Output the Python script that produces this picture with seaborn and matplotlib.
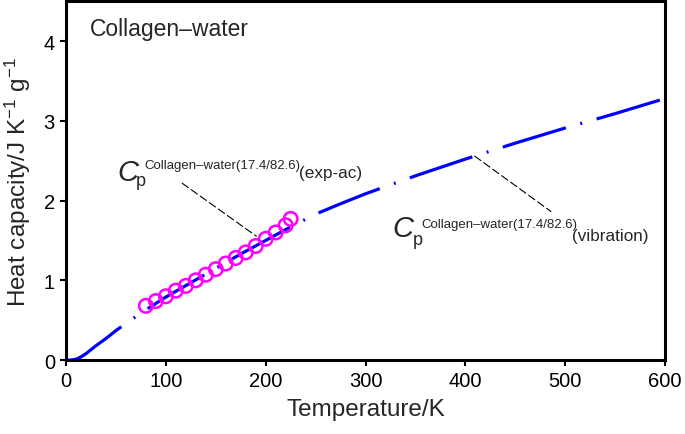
import matplotlib
matplotlib.use("Agg")
import matplotlib.pyplot as plt
import seaborn as sns

OUTPUT_FILE = "out.png"

# vibrational heat capacity (line)
temp_vib = [0, 5, 10, 15, 20, 30, 40, 50, 60, 80, 100, 125, 150, 175, 200, 225, 250,
            275, 300, 350, 400, 450, 500, 550, 600]
cp_vib = [0.0, 0.0, 0.01, 0.04, 0.08, 0.18, 0.27, 0.37, 0.46, 0.63, 0.79, 0.97, 1.15,
          1.33, 1.50, 1.67, 1.83, 1.96, 2.085, 2.31, 2.52, 2.72, 2.91, 3.09, 3.28]

# experimental heat capacity (circles)
temp_exp = [80, 90, 100, 110, 120, 130, 140, 150, 160, 170, 180, 190, 200, 210, 220, 225]
cp_exp = [0.68, 0.74, 0.80, 0.87, 0.93, 1.00, 1.07, 1.14, 1.21, 1.28, 1.35, 1.43,
          1.52, 1.60, 1.69, 1.77]

sns.set_style("ticks")
plt.rcParams["font.family"] = ["Liberation Sans", "DejaVu Sans"]
plt.rcParams["mathtext.fontset"] = "custom"
plt.rcParams["mathtext.rm"] = "Liberation Sans"
plt.rcParams["mathtext.it"] = "Liberation Sans:italic"
plt.rcParams["lines.scale_dashes"] = False

fig = plt.figure(figsize=(6.85, 4.35), dpi=100)
ax = fig.add_axes([0.0964, 0.170, 0.8745, 0.825])

# long dash - dot line for the vibrational contribution
sns.lineplot(x=temp_vib, y=cp_vib, ax=ax, color="#0000ff", lw=2.3)
line = ax.lines[-1]
line.set_dashes([47.5, 10.8, 1.4, 10.8])
line.set_dash_capstyle("butt")

sns.scatterplot(x=temp_exp, y=cp_exp, ax=ax, s=95, marker="o",
                facecolor="none", edgecolor="#ff00ff", linewidth=1.8, zorder=3)

ax.set_xlim(0, 600)
ax.set_ylim(0, 4.5)
ax.set_xticks([0, 100, 200, 300, 400, 500, 600])
ax.set_yticks([0, 1, 2, 3, 4])
ax.tick_params(direction="out", length=4.5, width=1.5, labelsize=14.5, colors="black")
for sp in ax.spines.values():
    sp.set_linewidth(2.2)
    sp.set_color("black")
    sp.set_visible(True)

ax.set_xlabel("Temperature/K", fontsize=17.5, labelpad=6)
ax.set_ylabel(r"Heat capacity/J K$^{-1}$ g$^{-1}$", fontsize=17.5, labelpad=8)

ax.text(24, 4.075, "Collagen\u2013water", fontsize=16.5, va="baseline")

# label for experimental data
ax.text(51, 2.26, "C", fontsize=21, style="italic", va="baseline")
ax.text(70, 2.19, "p", fontsize=13, va="baseline")
ax.text(78, 2.41, "Collagen\u2013water(17.4/82.6)", fontsize=9.5, va="baseline")
ax.text(233, 2.29, "(exp-ac)", fontsize=12.3, va="baseline")
ax.plot([116, 191], [2.22, 1.55], color="black", lw=0.8, dashes=[6, 2])

# label for vibrational curve
ax.text(327, 1.55, "C", fontsize=21, style="italic", va="baseline")
ax.text(347, 1.46, "p", fontsize=13, va="baseline")
ax.text(356, 1.67, "Collagen\u2013water(17.4/82.6)", fontsize=9.5, va="baseline")
ax.text(507, 1.50, "(vibration)", fontsize=12.3, va="baseline")
ax.plot([409, 486], [2.56, 1.86], color="black", lw=0.8, dashes=[6, 2])

plt.savefig(OUTPUT_FILE, dpi=100)
